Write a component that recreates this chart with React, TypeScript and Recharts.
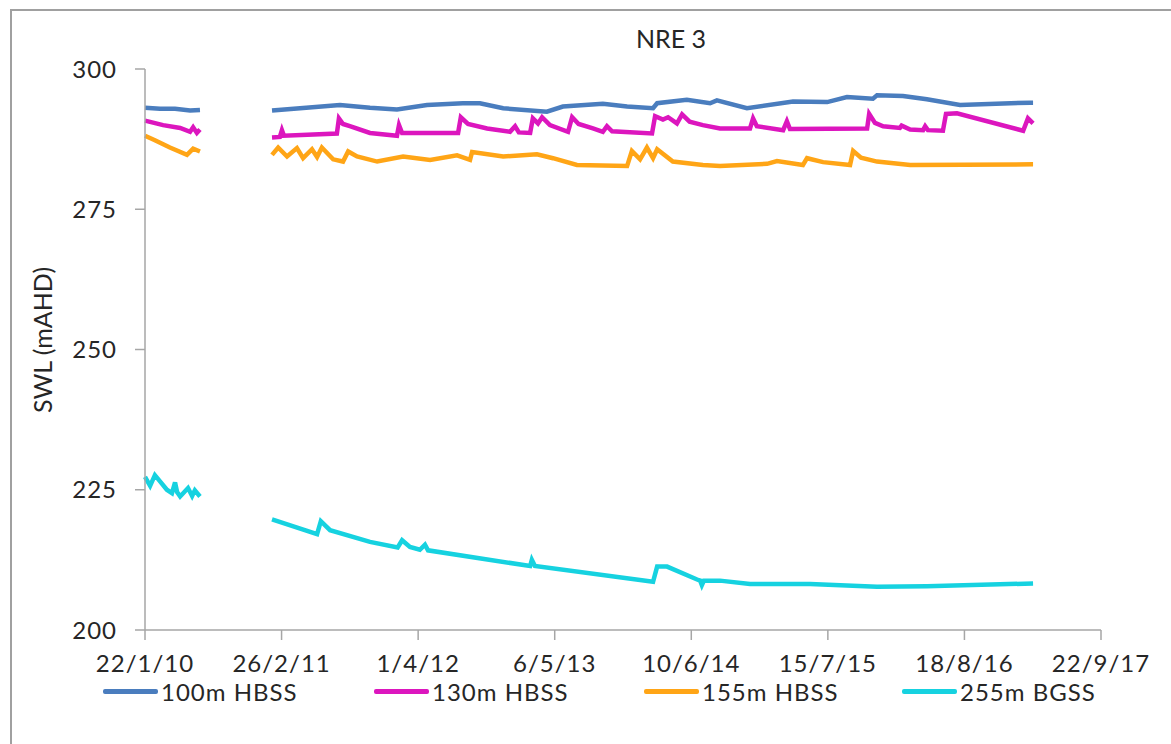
import { LineChart, Line, XAxis, YAxis, Legend, Label } from 'recharts'

const START = Date.UTC(2010, 0, 22)
const DAY = 86400000
const toDay = (iso: string) => (Date.parse(iso) - START) / DAY

const xTicks = [0, 400, 800, 1200, 1600, 2000, 2400, 2800]
const yTicks = [200, 225, 250, 275, 300]

const seriesNames = ['100m HBSS', '130m HBSS', '155m HBSS', '255m BGSS']
const seriesColors = ['#4A7DBE', '#DC16BE', '#FFA516', '#16D2E0']

type Pt = [string, number | null]

const hbss100: Pt[] = [
  ['2010-01-22', 293.1], ['2010-03-07', 292.9], ['2010-04-20', 292.9], ['2010-06-03', 292.6], ['2010-07-02', 292.7],
  ['2010-10-15', null],
  ['2011-01-29', 292.6], ['2011-04-21', 293.0], ['2011-08-16', 293.6], ['2011-11-12', 293.1], ['2012-01-30', 292.8],
  ['2012-04-27', 293.6], ['2012-08-10', 293.9], ['2012-09-29', 293.9], ['2012-12-06', 293.0], ['2013-04-13', 292.4],
  ['2013-05-30', 293.3], ['2013-09-24', 293.8], ['2013-12-04', 293.3], ['2014-02-18', 293.0], ['2014-03-02', 293.9],
  ['2014-05-28', 294.5], ['2014-08-04', 293.9], ['2014-08-24', 294.4], ['2014-11-20', 293.0], ['2015-04-04', 294.2],
  ['2015-07-13', 294.1], ['2015-09-09', 295.0], ['2015-11-24', 294.7], ['2015-12-06', 295.3], ['2016-02-20', 295.2],
  ['2016-04-30', 294.6], ['2016-08-05', 293.6], ['2017-02-26', 294.0], ['2017-03-07', 294.0],
]

const hbss130: Pt[] = [
  ['2010-01-22', 290.8], ['2010-03-16', 290.0], ['2010-05-05', 289.5], ['2010-06-03', 288.8], ['2010-06-12', 289.6],
  ['2010-06-23', 288.6], ['2010-07-02', 289.2],
  ['2010-10-15', null],
  ['2011-01-29', 287.8], ['2011-02-21', 287.9], ['2011-02-27', 289.1], ['2011-03-05', 288.1], ['2011-08-07', 288.5],
  ['2011-08-13', 291.2], ['2011-08-25', 290.2], ['2011-09-14', 289.8], ['2011-11-12', 288.6], ['2012-01-30', 288.1],
  ['2012-02-05', 290.0], ['2012-02-14', 288.6], ['2012-07-27', 288.6], ['2012-08-04', 291.4], ['2012-08-25', 290.2],
  ['2012-10-20', 289.4], ['2012-12-26', 288.8], ['2013-01-10', 289.8], ['2013-01-21', 288.7], ['2013-02-23', 288.6],
  ['2013-03-03', 291.2], ['2013-03-18', 290.3], ['2013-03-30', 291.4], ['2013-04-22', 290.0], ['2013-06-14', 288.8],
  ['2013-06-26', 291.4], ['2013-07-15', 290.2], ['2013-08-26', 289.4], ['2013-09-24', 288.8], ['2013-10-06', 289.8],
  ['2013-10-21', 288.9], ['2014-02-15', 288.5], ['2014-02-24', 291.6], ['2014-03-19', 291.0], ['2014-04-03', 291.4],
  ['2014-04-29', 290.3], ['2014-05-14', 291.9], ['2014-06-05', 290.6], ['2014-07-14', 290.0], ['2014-09-02', 289.4],
  ['2014-11-29', 289.4], ['2014-12-08', 291.2], ['2014-12-19', 289.8], ['2015-03-06', 289.1], ['2015-03-17', 290.7],
  ['2015-03-26', 289.3], ['2015-11-07', 289.4], ['2015-11-13', 292.0], ['2015-11-30', 290.4], ['2015-12-24', 289.8],
  ['2016-02-11', 289.5], ['2016-02-16', 289.9], ['2016-03-12', 289.2], ['2016-04-19', 289.1], ['2016-04-25', 289.8],
  ['2016-05-03', 289.1], ['2016-06-16', 289.0], ['2016-06-25', 292.0], ['2016-07-27', 292.1], ['2017-02-06', 289.0],
  ['2017-02-20', 291.2], ['2017-03-07', 290.3],
]

const hbss155: Pt[] = [
  ['2010-01-22', 288.1], ['2010-02-20', 287.3], ['2010-04-05', 286.0], ['2010-05-25', 284.7], ['2010-06-12', 285.8],
  ['2010-07-02', 285.3],
  ['2010-10-15', null],
  ['2011-01-29', 284.7], ['2011-02-16', 286.0], ['2011-03-14', 284.4], ['2011-04-12', 285.9], ['2011-04-30', 284.1],
  ['2011-05-26', 285.7], ['2011-06-10', 284.3], ['2011-06-24', 286.0], ['2011-07-27', 283.9], ['2011-08-25', 283.5],
  ['2011-09-09', 285.3], ['2011-10-05', 284.4], ['2011-12-03', 283.5], ['2012-02-17', 284.4], ['2012-05-06', 283.8],
  ['2012-07-24', 284.6], ['2012-08-31', 283.8], ['2012-09-06', 285.2], ['2012-12-06', 284.4], ['2013-03-15', 284.8],
  ['2013-05-01', 284.1], ['2013-07-10', 282.9], ['2013-12-04', 282.7], ['2013-12-18', 285.4], ['2014-01-11', 283.9],
  ['2014-01-31', 286.0], ['2014-02-18', 284.1], ['2014-03-02', 285.7], ['2014-04-17', 283.5], ['2014-07-14', 282.9],
  ['2014-09-02', 282.7], ['2015-01-18', 283.1], ['2015-02-16', 283.6], ['2015-05-03', 282.9], ['2015-05-15', 284.1],
  ['2015-07-01', 283.4], ['2015-09-18', 282.9], ['2015-09-27', 285.4], ['2015-10-20', 284.2], ['2015-12-06', 283.5],
  ['2016-03-12', 282.9], ['2017-03-07', 283.0],
]

const bgss255: Pt[] = [
  ['2010-01-22', 227.3], ['2010-02-06', 225.7], ['2010-02-20', 227.6], ['2010-03-07', 226.5], ['2010-03-27', 225.0],
  ['2010-04-11', 224.4], ['2010-04-20', 226.3], ['2010-04-26', 224.6], ['2010-05-05', 223.8], ['2010-05-28', 225.3],
  ['2010-06-09', 223.9], ['2010-06-17', 224.9], ['2010-07-02', 223.8],
  ['2010-10-15', null],
  ['2011-01-29', 219.7], ['2011-06-10', 217.1], ['2011-06-21', 219.4], ['2011-07-18', 217.8], ['2011-11-12', 215.7],
  ['2012-02-01', 214.7], ['2012-02-14', 216.0], ['2012-03-08', 214.8], ['2012-04-06', 214.3], ['2012-04-21', 215.2],
  ['2012-04-30', 214.2], ['2013-02-23', 211.4], ['2013-02-28', 212.5], ['2013-03-09', 211.4], ['2014-02-18', 208.6],
  ['2014-03-02', 211.3], ['2014-03-31', 211.3], ['2014-06-27', 209.0], ['2014-07-06', 208.8], ['2014-07-11', 208.0],
  ['2014-07-17', 208.8], ['2014-09-02', 208.8], ['2014-11-29', 208.2], ['2015-05-24', 208.2], ['2015-12-06', 207.7],
  ['2016-04-30', 207.8], ['2017-03-07', 208.3],
]

const toRows = (pts: Pt[]) => pts.map(([d, v]) => ({ day: toDay(d), swl: v }))
const seriesData = [hbss100, hbss130, hbss155, bgss255].map(toRows)

const fmtTick = (day: number) => {
  const d = new Date(START + day * DAY)
  return `${d.getUTCDate()}/${d.getUTCMonth() + 1}/${d.getUTCFullYear() % 100}`
}

const FONT = 'Lato, sans-serif'
const TEXT = '#262626'
const AXIS = '#a6a6a6'

const legendLeft = [103, 374, 644, 902]

function ChartLegend() {
  return (
    <div style={{ position: 'relative', width: 1171, height: 29, fontFamily: FONT, fontSize: 24, letterSpacing: 1, color: TEXT }}>
      {seriesNames.map((name, i) => (
        <div key={name} style={{ position: 'absolute', left: legendLeft[i], top: 0, display: 'flex', alignItems: 'center', height: 29 }}>
          <span style={{ display: 'inline-block', width: 55, height: 5, background: seriesColors[i], borderRadius: 2 }} />
          <span style={{ marginLeft: 3, whiteSpace: 'nowrap' }}>{name}</span>
        </div>
      ))}
    </div>
  )
}

const tickStyle = { fill: TEXT, fontFamily: FONT, fontSize: 24, letterSpacing: 1 }

export default function App() {
  return (
    <div style={{ position: 'absolute', left: 0, top: 0, width: 1171, height: 744, overflow: 'hidden', background: '#fff' }}>
      <div style={{ position: 'absolute', left: 10, top: 9, width: 1200, height: 800, border: '2px solid #a0a0a0' }} />
      <div style={{ position: 'absolute', left: 571, top: 23, width: 200, textAlign: 'center', fontFamily: FONT, fontSize: 25, color: TEXT }}>
        NRE 3
      </div>
      <div style={{ position: 'absolute', left: 0, top: 0 }}>
        <LineChart width={1171} height={744} margin={{ top: 69, right: 70, bottom: 74, left: 0 }}>
          <XAxis
            dataKey="day"
            type="number"
            domain={[0, 2800]}
            ticks={xTicks}
            tickFormatter={fmtTick}
            allowDuplicatedCategory={false}
            height={40}
            stroke={AXIS}
            strokeWidth={1.5}
            tickSize={10}
            tickMargin={15}
            tick={tickStyle}
            interval={0}
          />
          <YAxis
            type="number"
            domain={[200, 300]}
            ticks={yTicks}
            width={145}
            stroke={AXIS}
            strokeWidth={1.5}
            tickSize={10}
            tickMargin={18}
            tick={tickStyle}
            interval={0}
          >
            <Label
              content={() => (
                <text x={42} y={340} transform="rotate(-90 42 340)" textAnchor="middle" dominantBaseline="central" fill={TEXT} fontFamily={FONT} fontSize={25}>
                  SWL (mAHD)
                </text>
              )}
            />
          </YAxis>
          <Legend
            layout="horizontal"
            verticalAlign="middle"
            align="center"
            wrapperStyle={{ top: 677, left: 0, width: 1171 }}
            content={() => <ChartLegend />}
          />
          {seriesData.map((rows, i) => (
            <Line
              key={seriesNames[i]}
              data={rows}
              dataKey="swl"
              name={seriesNames[i]}
              type="linear"
              stroke={seriesColors[i]}
              strokeWidth={4.5}
              dot={false}
              activeDot={false}
              connectNulls={false}
              isAnimationActive={false}
            />
          ))}
        </LineChart>
      </div>
    </div>
  )
}
